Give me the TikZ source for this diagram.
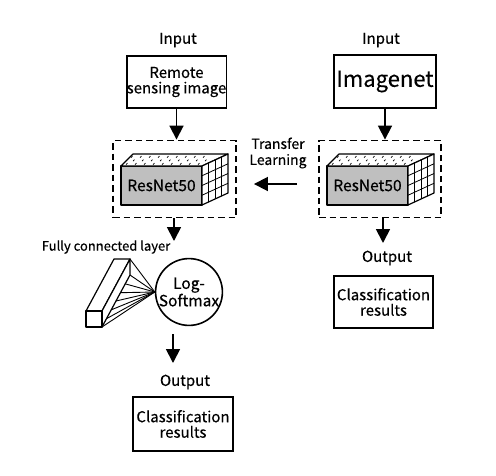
\documentclass[tikz,border=0pt]{standalone}
\usepackage{fontspec}
\setmainfont{Noto Sans CJK SC}[FakeBold=0.4]
\usetikzlibrary{arrows.meta, calc, positioning}

\begin{document}
\begin{tikzpicture}[x=1pt, y=-1pt,
    lbl/.style={font=\fontsize{15}{17}\selectfont},
    txtbox/.style={draw, line width=1.6pt, align=center, inner sep=0pt, font=\fontsize{15}{15.5}\selectfont},
    dashbox/.style={draw, line width=1.9pt, dash pattern=on 6.5pt off 4pt, inner sep=0pt},
    arr/.style={line width=1.8pt, -{Triangle[width=14pt, length=14pt]}},
    cube/.style={line width=1.2pt, line join=round}]
  \useasboundingbox (0,0) rectangle (496,475);

  % left column
  \node[lbl] (inL) at (178,40) {Input};
  \node[txtbox, minimum width=99pt, minimum height=52pt] (imgL) at (176.5,82) {Remote\\sensing image};
  \node[dashbox, minimum width=123pt, minimum height=77pt] (dashL) at (174.5,179) {};

  % right column
  \node[lbl] (inR) at (381,40) {Input};
  \node[txtbox, minimum width=102pt, minimum height=53pt, font=\fontsize{22}{24}\selectfont] (imgR) at (385,81.5) {Imagenet};
  \node[dashbox, minimum width=122pt, minimum height=77pt] (dashR) at (380,179) {};

  % the two ResNet blocks
  \foreach \dx/\nm in {0/resL, 206/resR} {
    \begin{scope}[xshift=\dx pt]
      \draw[cube, fill=black!25] (121,166) rectangle (202,205);
      \node[font=\fontsize{15.5}{16}\selectfont] (\nm) at (161.5,185.5) {ResNet50};
      \draw[cube, fill=white] (121,166) -- (133,154) -- (228,154) -- (202,166) -- cycle;
      \draw[cube, fill=white] (202,166) -- (228,154) -- (228,193) -- (202,205) -- cycle;
      \foreach \t in {0.25,0.5,0.75} {
        \draw[line width=0.8pt] (202+26*\t,166-12*\t) -- (202+26*\t,205-12*\t);
        \draw[line width=0.8pt] (202,166+39*\t) -- (228,154+39*\t);
      }
      \foreach \y/\x in {157.5/131, 161/133, 164.5/126}
        \foreach \i in {0,...,8}
          \draw[line width=0.7pt] (\x+9*\i,\y) -- ++(1.5,-1.5);
    \end{scope}
  }

  \draw[arr] (imgL.south) -- (imgL.south |- dashL.north);
  \draw[arr] (imgR.south) -- (imgR.south |- dashR.north);

  % transfer learning
  \node[lbl, align=center, font=\fontsize{14}{16}\selectfont] (tl) at (278,153) {Transfer\\Learning};
  \draw[arr, shorten <=21pt, shorten >=17pt] ([yshift=-5pt]dashR.west) -- ([yshift=-5pt]dashL.east);

  % fully connected layer and log-softmax
  \coordinate (fcA) at (174,241);
  \draw[arr] (dashL.south -| fcA) -- (fcA);
  \node[lbl, font=\fontsize{13}{15}\selectfont] (fcLbl) at (106,247) {Fully connected layer};
  \node[draw, circle, line width=1.6pt, minimum size=66pt, inner sep=0pt, align=center,
        font=\fontsize{15.5}{16}\selectfont] (sm) at (189,292) {Log-\\Softmax};
  \draw[cube, fill=white] (86,311) -- (114,259) -- (130,259) -- (102,311) -- cycle;
  \draw[cube, fill=white] (102,311) -- (130,259) -- (130,275) -- (102,327) -- cycle;
  \draw[cube, fill=white] (86,311) rectangle (102,327);
  \coordinate (fcB) at (130,275);
  \coordinate (fcF) at (102,327);
  \draw[line width=0.9pt] (130,259) -- (sm.west);
  \foreach \t in {0,0.17,0.34,0.5,0.67,0.84,1}
    \draw[line width=0.9pt] ($(fcB)!\t!(fcF)$) -- (sm.west);

  % outputs
  \coordinate (smA) at (173,334);
  \draw[arr] (smA) -- ++(0,29);
  \node[lbl] (outL) at (185,382) {Output};
  \node[txtbox, minimum width=100pt, minimum height=54pt] (clsL) at (183,424) {Classification\\results};

  \coordinate (rA) at (383,243);
  \draw[arr] (dashR.south -| rA) -- (rA);
  \node[lbl] (outR) at (387,258) {Output};
  \node[txtbox, minimum width=99pt, minimum height=52pt] (clsR) at (383.5,302) {Classification\\results};
\end{tikzpicture}
\end{document}
